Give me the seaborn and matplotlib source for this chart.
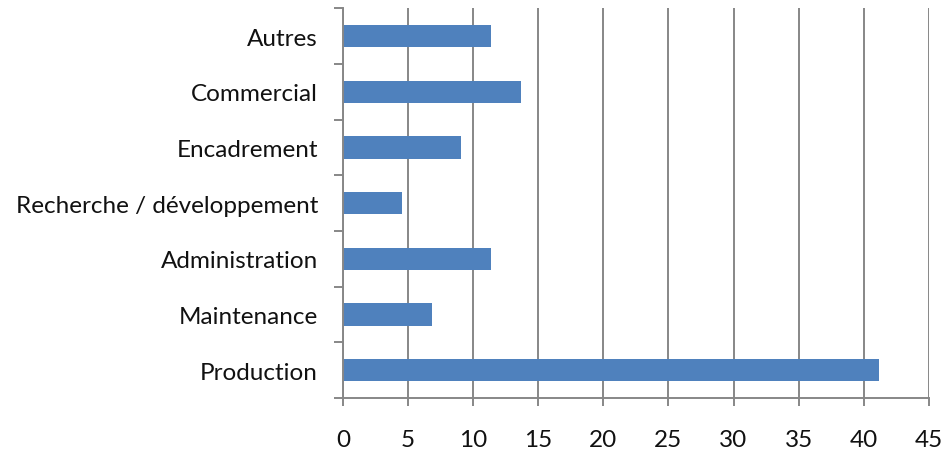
import seaborn as sns
import matplotlib.pyplot as plt
from matplotlib.ticker import FixedLocator

# data
categories = ["Autres", "Commercial", "Encadrement", "Recherche / développement",
              "Administration", "Maintenance", "Production"]
values = [11.4, 13.65, 9.1, 4.55, 11.4, 6.8, 41.2]
x_ticks = [0, 5, 10, 15, 20, 25, 30, 35, 40, 45]

sns.set_theme(style="white")
plt.rcParams['font.family'] = ['Lato', 'DejaVu Sans']

gray = "#878787"
fig = plt.figure(figsize=(9.43, 4.52), dpi=100)
ax = fig.add_axes([0.3637, 0.1173, 0.6213, 0.8621])

sns.barplot(x=values, y=categories, orient="h", color="#4F81BD",
            width=0.4, saturation=1, edgecolor="none", ax=ax)

ax.set_xlim(0, 45)
ax.set_ylim(len(categories) - 0.5, -0.5)
ax.set_xticks(x_ticks)
ax.set_xlabel("")
ax.set_ylabel("")

# vertical gridlines
ax.xaxis.grid(True, color=gray, linewidth=1.4)
ax.yaxis.grid(False)
ax.set_axisbelow(True)

for s in ["top", "right"]:
    ax.spines[s].set_visible(False)
for s in ["left", "bottom"]:
    ax.spines[s].set_color(gray)
    ax.spines[s].set_linewidth(1.4)

# category ticks sit between categories
ax.yaxis.set_minor_locator(FixedLocator([i - 0.5 for i in range(len(categories) + 1)]))
ax.tick_params(axis="y", which="minor", length=6.5, width=1.4, color=gray, left=True)
ax.tick_params(axis="y", which="major", length=0, pad=18, labelsize=17.5, labelcolor="#111111")
ax.tick_params(axis="x", which="major", length=6, width=1.4, color=gray, bottom=True,
               pad=16, labelsize=17.5, labelcolor="#111111")

fig.savefig("out.png", dpi=100)
